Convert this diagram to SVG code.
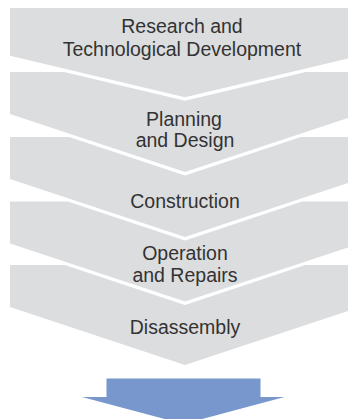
<svg xmlns="http://www.w3.org/2000/svg" width="348" height="419" viewBox="0 0 348 419">
<style>
.chev{fill:#dcdddf;}
.lbl{font-family:"Liberation Sans",Arial,sans-serif;font-size:19.5px;fill:#333333;text-anchor:middle;}
.arr{fill:#7797cd;}
</style>
<rect width="348" height="419" fill="#ffffff"/>
<g id="stage-research">
<polygon class="chev" points="10,8 360,8 360,55.7 185,97.3 10,55.7"/>
<text class="lbl" x="182" y="33">Research and</text>
<text class="lbl" x="182" y="55.5">Technological Development</text>
</g>
<g id="stage-planning">
<polygon class="chev" points="10,72 64.3,72 185,100.7 305.7,72 360,72 360,114 185,172 10,114"/>
<text class="lbl" x="184" y="125.5">Planning</text>
<text class="lbl" x="185" y="147">and Design</text>
</g>
<g id="stage-construction">
<polygon class="chev" points="10,137 69.2,137 185,175.4 300.8,137 360,137 360,179 185,237 10,179"/>
<text class="lbl" x="185" y="208">Construction</text>
</g>
<g id="stage-operation">
<polygon class="chev" points="10,201.5 67.7,201.5 185,240.4 302.3,201.5 360,201.5 360,243.5 185,301.5 10,243.5"/>
<text class="lbl" x="185" y="259.5">Operation</text>
<text class="lbl" x="185" y="281.5">and Repairs</text>
</g>
<g id="stage-disassembly">
<polygon class="chev" points="10,265 64.7,265 185,304.9 305.3,265 360,265 360,307 185,365 10,307"/>
<text class="lbl" x="185" y="334">Disassembly</text>
</g>
<g id="outcome-arrow">
<polygon class="arr" points="106.5,378.5 260.5,378.5 260.5,397 284.5,397 183.5,424 82,397 106.5,397"/>
</g>
</svg>
